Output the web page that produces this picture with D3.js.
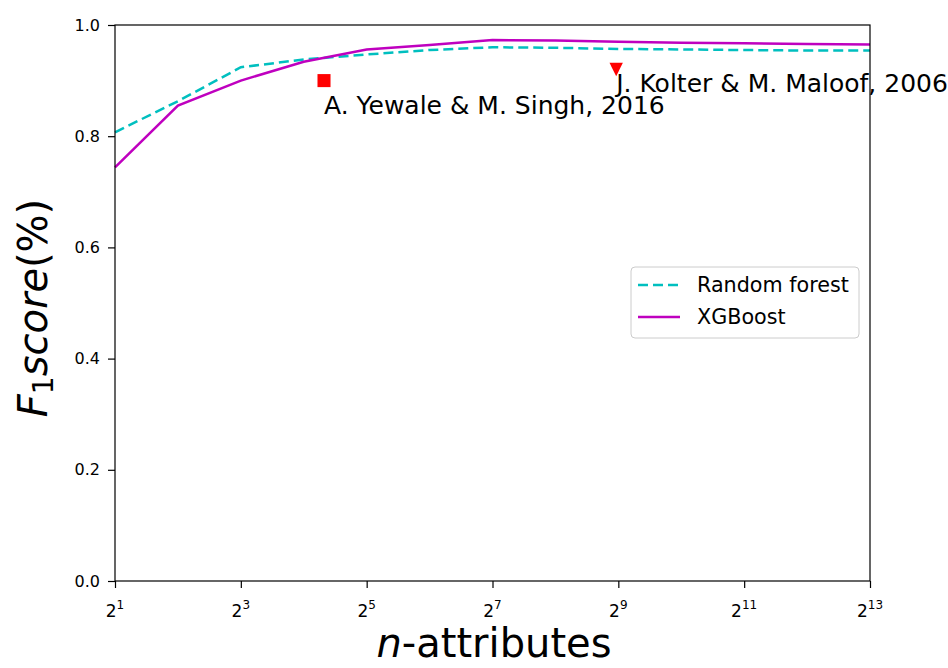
<!DOCTYPE html>
<html><head><meta charset="utf-8">
<script src="https://cdn.jsdelivr.net/npm/d3@7"></script>
<style>body{margin:0;background:#fff;} text{font-family:"DejaVu Sans",sans-serif;}</style>
</head><body><svg id="chart" width="948" height="668"></svg>
<script>
const exponents = [1,2,3,4,5,6,7,8,9,10,11,12,13];
const randomForest = [0.807,0.863,0.924,0.938,0.947,0.955,0.960,0.959,0.957,0.956,0.955,0.954,0.954];
const xgboost = [0.744,0.855,0.900,0.934,0.956,0.964,0.973,0.972,0.970,0.968,0.967,0.966,0.965];
const xTickExps = [1,3,5,7,9,11,13];
const yTicks = [0.0,0.2,0.4,0.6,0.8,1.0];
const refPoints = [
  {name:"A. Yewale & M. Singh, 2016", x:20, y:0.90, tx:20, ty:0.84, shape:"square"},
  {name:"J. Kolter & M. Maloof, 2006", x:500, y:0.92, tx:500, ty:0.88, shape:"triangle"}
];
const seriesNames = ["Random forest","XGBoost"];

const svg = d3.select("#chart");
const L=115, R=870, T=25, B=581;
const x = d3.scaleLog().base(2).domain([2,8192]).range([L,R]);
const y = d3.scaleLinear().domain([0,1]).range([B,T]);

// lines
const line = d3.line().x(d=>x(d[0])).y(d=>y(d[1]));
const rfData = exponents.map((e,i)=>[Math.pow(2,e), randomForest[i]]);
const xgData = exponents.map((e,i)=>[Math.pow(2,e), xgboost[i]]);
svg.append("path").attr("d", line(rfData)).attr("fill","none")
  .attr("stroke","#00bfbf").attr("stroke-width",2.5).attr("stroke-dasharray","10,5");
svg.append("path").attr("d", line(xgData)).attr("fill","none")
  .attr("stroke","#bf00bf").attr("stroke-width",2.5);

// markers
refPoints.forEach(p=>{
  const cx=x(p.x), cy=y(p.y);
  if(p.shape==="square"){
    svg.append("path").attr("d", d3.symbol().type(d3.symbolSquare).size(170)()).attr("transform",`translate(${cx},${cy})`).attr("fill","red");
  } else {
    const s=6.7;
    svg.append("path").attr("d",`M${cx-s},${cy-s}L${cx+s},${cy-s}L${cx},${cy+s}Z`).attr("fill","red");
  }
  svg.append("text").attr("x",x(p.tx)).attr("y",y(p.ty)).attr("font-size",25).attr("fill","#000").text(p.name);
});

// axes
const yAxis = d3.axisLeft(y).tickValues(yTicks).tickFormat(d3.format(".1f")).tickSize(7).tickPadding(8);
const gy = svg.append("g").attr("transform",`translate(${L},0)`).call(yAxis);
gy.selectAll("text").attr("font-size",16).attr("fill","#000");
const xAxis = d3.axisBottom(x).tickValues(xTickExps.map(e=>Math.pow(2,e))).tickFormat("").tickSize(7);
const gx = svg.append("g").attr("transform",`translate(0,${B})`).call(xAxis);
[gx,gy].forEach(g=>{g.select(".domain").remove(); g.selectAll("line").attr("stroke","#000").attr("stroke-width",1.2);});
xTickExps.forEach(e=>{
  const t = svg.append("text").attr("x",x(Math.pow(2,e))).attr("y",617).attr("text-anchor","middle").attr("font-size",17);
  t.append("tspan").text("2");
  t.append("tspan").attr("dy",-8).attr("font-size",12).text(e);
});
// frame
svg.append("rect").attr("x",L).attr("y",T).attr("width",R-L).attr("height",B-T).attr("fill","none").attr("stroke","#000").attr("stroke-width",1.2);

// axis labels
const xl = svg.append("text").attr("x",494).attr("y",657).attr("text-anchor","middle").attr("font-size",40);
xl.append("tspan").attr("font-style","italic").text("n");
xl.append("tspan").text("-attributes");
const yl = svg.append("text").attr("transform","translate(47,308) rotate(-90)").attr("text-anchor","middle").attr("font-size",40);
yl.append("tspan").attr("font-style","italic").text("F");
yl.append("tspan").attr("dy",6).attr("font-size",28).text("1");
yl.append("tspan").attr("dy",-6).attr("font-style","italic").text("score");
yl.append("tspan").text("(%)");

// legend
const lg = svg.append("g");
lg.append("rect").attr("x",631).attr("y",267).attr("width",228).attr("height",71).attr("rx",4)
  .attr("fill","#fff").attr("fill-opacity",0.8).attr("stroke","#ccc").attr("stroke-width",1);
const styles=[{c:"#00bfbf",dash:"10,5"},{c:"#bf00bf",dash:null}];
seriesNames.forEach((n,i)=>{
  const yy = 285 + i*32;
  const ln = lg.append("line").attr("x1",638).attr("x2",680).attr("y1",yy).attr("y2",yy).attr("stroke",styles[i].c).attr("stroke-width",2.5);
  if(styles[i].dash) ln.attr("stroke-dasharray",styles[i].dash);
  lg.append("text").attr("x",697).attr("y",yy+7).attr("font-size",20.7).attr("fill","#000").text(n);
});
</script></body></html>
